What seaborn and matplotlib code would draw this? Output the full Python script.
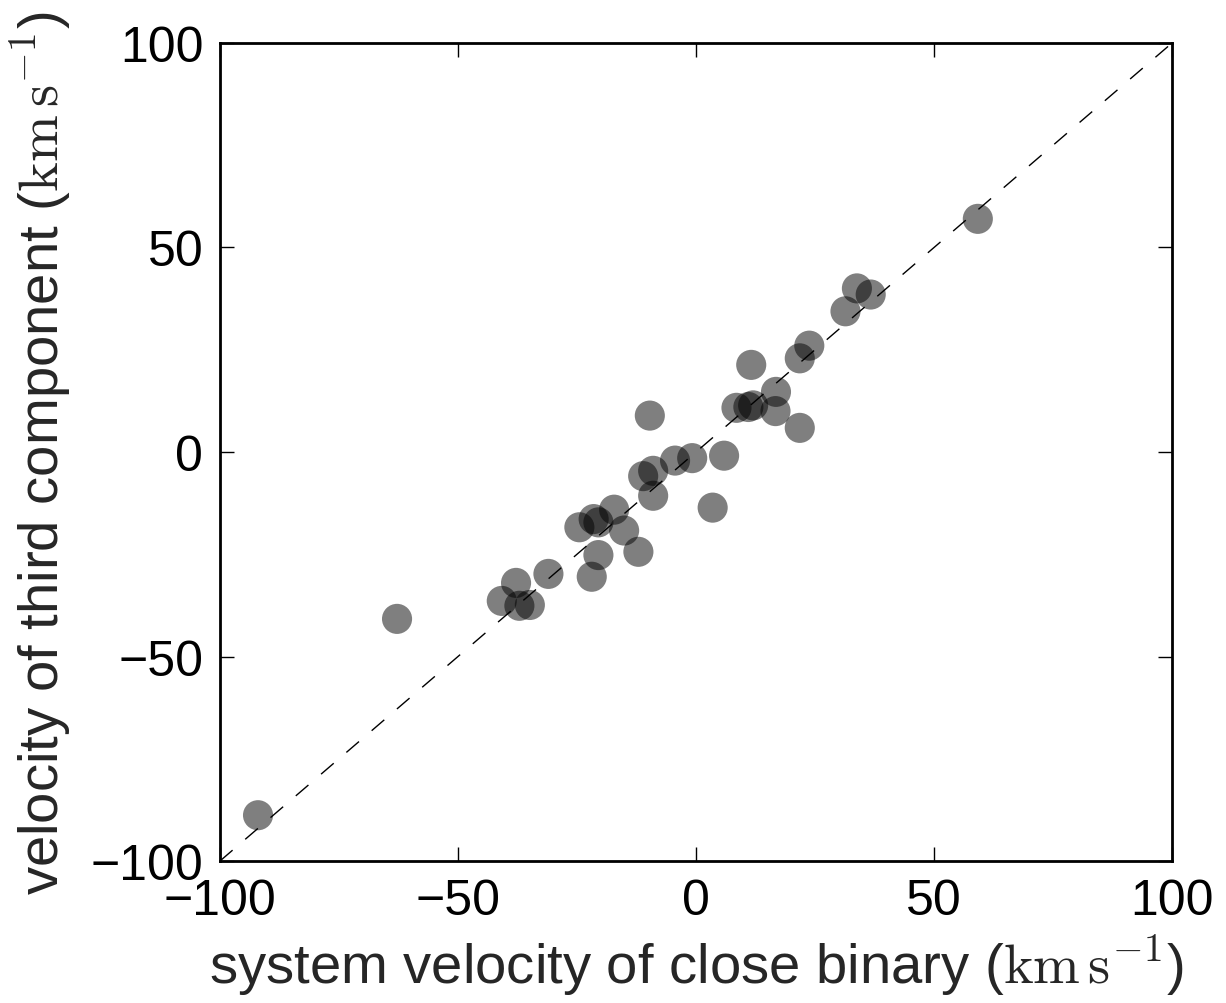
import numpy as np
import pandas as pd
import seaborn as sns
import matplotlib
matplotlib.use("Agg")
import matplotlib.pyplot as plt

# system velocity of close binary (km/s)
v_binary = [-92.0, -62.8, -40.8, -37.8, -37.1, -34.9, -31.0, -21.9, -20.5,
            -24.5, -21.5, -20.5, -17.2, -15.1, -12.1, -11.1, -9.0, -9.0,
            -9.7, -4.4, -0.8, 3.5, 5.9, 8.5, 11.0, 12.0, 11.6, 16.8, 16.7,
            21.8, 21.8, 23.8, 31.4, 33.8, 36.7, 59.2]
# velocity of third component (km/s)
v_third = [-88.8, -40.8, -36.4, -32.0, -37.6, -37.4, -29.8, -30.5, -25.2,
           -18.4, -16.4, -17.2, -14.1, -19.2, -24.4, -5.9, -4.6, -10.7,
           8.9, -2.1, -1.5, -13.6, -0.9, 10.8, 11.0, 11.4, 21.3, 14.7, 10.0,
           5.9, 22.9, 26.0, 34.4, 40.0, 38.5, 57.0]

df = pd.DataFrame({"vb": v_binary, "vt": v_third})

sns.set_style("ticks")
plt.rcParams["font.family"] = ["Liberation Sans", "DejaVu Sans"]
plt.rcParams["mathtext.fontset"] = "cm"
plt.rcParams["xtick.direction"] = "in"
plt.rcParams["ytick.direction"] = "in"
plt.rcParams["xtick.top"] = True
plt.rcParams["ytick.right"] = True

fig = plt.figure(figsize=(12.26, 10.04), dpi=100)
ax = fig.add_axes([0.1794, 0.1414, 0.7766, 0.8148])

ax.plot([-100, 100], [-100, 100], ls=(0, (12, 12)), color="black", lw=1, zorder=1)
sns.scatterplot(data=df, x="vb", y="vt", ax=ax, color="black", alpha=0.5,
                s=470, edgecolor="none", linewidth=0, zorder=2)

ax.set_xlim(-100, 100)
ax.set_ylim(-100, 100)
ax.set_xticks([-100, -50, 0, 50, 100])
ax.set_yticks([-100, -50, 0, 50, 100])
ax.tick_params(labelsize=36, length=10, width=1, pad=12, colors="black")
for sp in ax.spines.values():
    sp.set_linewidth(2)
    sp.set_color("black")

ax.set_xlabel(r"system velocity of close binary ($\mathrm{km\,s^{-1}}$)",
              fontsize=40.5, labelpad=6)
ax.set_ylabel(r"velocity of third component ($\mathrm{km\,s^{-1}}$)",
              fontsize=40.5, labelpad=12)

fig.savefig("out.png", dpi=100)
